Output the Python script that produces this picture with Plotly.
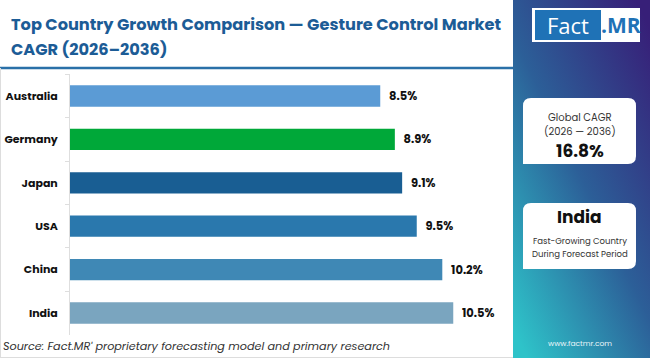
import plotly.graph_objects as go

W, H = 650, 358

countries = ["Australia", "Germany", "Japan", "USA", "China", "India"]
cagr = [8.5, 8.9, 9.1, 9.5, 10.2, 10.5]
labels = ["8.5%", "8.9%", "9.1%", "9.5%", "10.2%", "10.5%"]
bar_colors = ["#5b9bd5", "#00a839", "#195e93", "#2a78ad", "#3f88b5", "#7aa5bf"]

title_l1 = "Top Country Growth Comparison — Gesture Control Market"
title_l2 = "CAGR (2026–2036)"
source_txt = "Source: Fact.MR' proprietary forecasting model and primary research"
global_lbl = "Global CAGR"
global_period = "(2026 — 2036)"
global_val = "16.8%"
fast_country = "India"
fast_l1 = "Fast-Growing Country"
fast_l2 = "During Forecast Period"
site = "www.factmr.com"


def px(x):
    return x / W


def py(y):
    return 1 - y / H


FONT = "Poppins, Open Sans, sans-serif"

fig = go.Figure()
fig.add_trace(go.Bar(
    x=cagr, y=countries, orientation="h",
    marker=dict(color=bar_colors, line=dict(width=0)),
    text=labels, texttemplate="\u2002%{text}", textposition="outside",
    textfont=dict(family=FONT, size=11.5, color="#111111", weight="bold"),
    cliponaxis=False, width=0.49, hoverinfo="skip",
))

shapes = []
svg = ("data:image/svg+xml;utf8,<svg xmlns='http://www.w3.org/2000/svg' width='137' height='358' "
       "viewBox='0 0 137 358' preserveAspectRatio='none'><defs><linearGradient id='g' x1='0.9' y1='0' x2='0.1' y2='1'>"
       "<stop offset='0' stop-color='%23371f78'/><stop offset='0.5' stop-color='%232c5f98'/>"
       "<stop offset='1' stop-color='%232ec3c9'/></linearGradient></defs>"
       "<rect width='137' height='358' fill='url(%23g)'/></svg>")
images = [dict(source=svg, xref="paper", yref="paper", x=px(513), y=1, sizex=px(137), sizey=1,
               xanchor="left", yanchor="top", sizing="stretch", layer="above")]

shapes.append(dict(type="line", xref="paper", yref="paper", x0=0, x1=px(513), y0=py(68), y1=py(68),
                   line=dict(color="#2a70a8", width=2.5)))
shapes.append(dict(type="line", xref="paper", yref="paper", x0=px(0.5), x1=px(0.5), y0=0, y1=py(68),
                   line=dict(color="#dddddd", width=1)))
shapes.append(dict(type="line", xref="paper", yref="paper", x0=0, x1=px(513), y0=py(357.5), y1=py(357.5),
                   line=dict(color="#dddddd", width=1)))

# logo
shapes.append(dict(type="rect", xref="paper", yref="paper", x0=px(532), x1=px(640), y0=py(42), y1=py(8),
                   fillcolor="white", line=dict(width=0), layer="above"))
shapes.append(dict(type="rect", xref="paper", yref="paper", x0=px(535), x1=px(601), y0=py(40), y1=py(10),
                   fillcolor="#1f72b6", line=dict(width=0), layer="above"))


def rounded(x0, y0, x1, y1, r):
    pts = [(x0 + r, y0), (x1 - r, y0), (x1, y0), (x1, y0 + r), (x1, y1 - r), (x1, y1), (x1 - r, y1),
           (x0, y1), (x0, y0 + r), (x0, y0), (x0 + r, y0)]
    c = [f"{px(a):.5f},{py(b):.5f}" for a, b in pts]
    return (f"M {c[0]} L {c[1]} Q {c[2]} {c[3]} L {c[4]} Q {c[5]} {c[6]} L {c[7]} L {c[8]} "
            f"Q {c[9]} {c[10]} Z")


for (x0, y0, x1, y1) in [(523, 98, 636, 164), (523, 203, 636, 269)]:
    shapes.append(dict(type="path", xref="paper", yref="paper", path=rounded(x0, y0, x1, y1, 8),
                       fillcolor="white", line=dict(width=0), layer="above"))

ann = []


def text(x, y, s, size, color="#222", bold=False, italic=False, xanchor="center", family=FONT):
    ann.append(dict(xref="paper", yref="paper", x=px(x), y=py(y), text=s, showarrow=False,
                    xanchor=xanchor, yanchor="middle",
                    font=dict(family=family, size=size, color=color,
                              weight="bold" if bold else "normal",
                              style="italic" if italic else "normal")))


text(9, 25, title_l1, 16.2, color="#1c5c96", bold=True, xanchor="left")
text(9, 49, title_l2, 16.2, color="#1c5c96", bold=True, xanchor="left")
text(1, 346, source_txt, 11.2, color="#333333", italic=True, xanchor="left")

text(568, 25, "Fact", 22, color="white", family="Open Sans, sans-serif")
text(621, 25, ".MR", 21, color="#1f72b6", bold=True, family="Open Sans, sans-serif")

text(579.5, 117, global_lbl, 10, color="#333333")
text(579.5, 132, global_period, 10, color="#333333")
text(579.5, 151, global_val, 17, color="#111111", bold=True)
text(579.5, 217, fast_country, 17, color="#111111", bold=True)
text(579.5, 241, fast_l1, 8.5, color="#333333")
text(579.5, 254, fast_l2, 8.5, color="#333333")
text(580, 343, site, 7.5, color="#e8f4f8")

fig.update_layout(
    width=W, height=H, margin=dict(l=0, r=0, t=0, b=0),
    paper_bgcolor="white", plot_bgcolor="rgba(0,0,0,0)",
    showlegend=False, bargap=0.51,
    shapes=shapes, annotations=ann, images=images,
    xaxis=dict(domain=[px(70), px(508)], range=[0, 12], visible=False, fixedrange=True),
    yaxis=dict(domain=[py(334.7), py(74.3)], autorange="reversed", showline=True, linecolor="#dedede",
               linewidth=1, ticks="outside", tickson="boundaries", ticklen=4, tickcolor="#dedede",
               tickfont=dict(family=FONT, size=11, color="#111111", weight="bold"),
               ticklabelstandoff=9, showgrid=False, zeroline=False, fixedrange=True),
)
fig.write_html("out.html", config={"displayModeBar": False},
               post_script="document.body.style.margin='0';document.body.style.overflow='hidden';")
